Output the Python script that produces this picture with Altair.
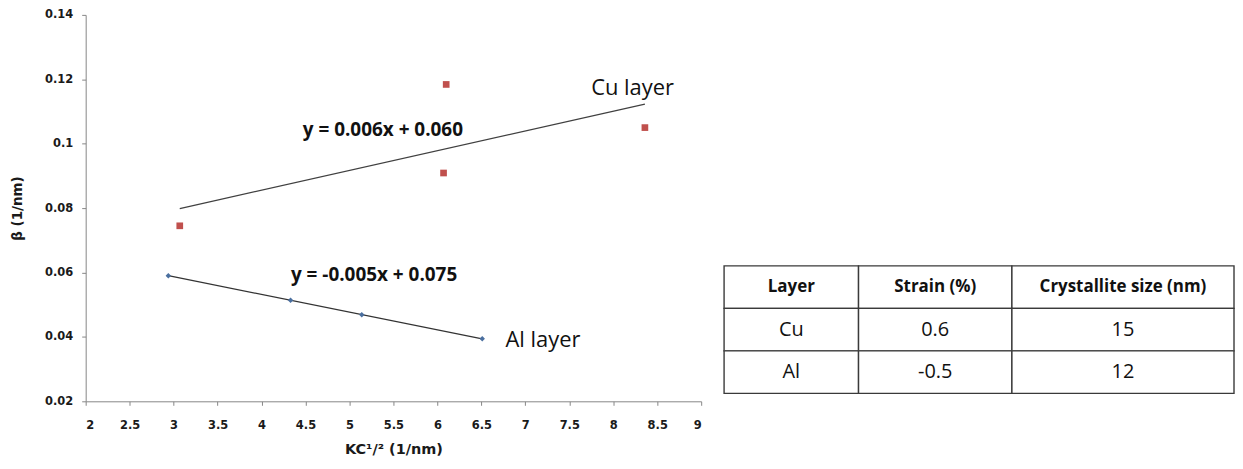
import altair as alt
import pandas as pd

# ---- data ----
cu_x = [3.07, 6.10, 6.07, 8.36]
cu_y = [0.0745, 0.1184, 0.0909, 0.105]
al_x = [2.94, 4.33, 5.14, 6.51]
al_y = [0.059, 0.0514, 0.0469, 0.0394]

x_ticks = [2, 2.5, 3, 3.5, 4, 4.5, 5, 5.5, 6, 6.5, 7, 7.5, 8, 8.5, 9]
y_ticks = [0.02, 0.04, 0.06, 0.08, 0.10, 0.12, 0.14]

ann_text = ["y = 0.006x + 0.060", "y = -0.005x + 0.075", "Cu layer", "Al layer"]
ann_x = [5.38, 5.28, 8.22, 7.20]
ann_y = [0.1041, 0.0591, 0.1172, 0.0389]
ann_bold = [True, True, False, False]

table_header = ["Layer", "Strain (%)", "Crystallite size (nm)"]
table_layer = ["Cu", "Al"]
table_strain = ["0.6", "-0.5"]
table_size = ["15", "12"]

# ---- plot ----
cu = pd.DataFrame({"x": cu_x, "y": cu_y})
al = pd.DataFrame({"x": al_x, "y": al_y})
ann = pd.DataFrame({"t": ann_text, "x": ann_x, "y": ann_y, "b": ann_bold})

xs = alt.Scale(domain=[2, 9], nice=False, zero=False)
ys = alt.Scale(domain=[0.02, 0.14], nice=False, zero=False)

axis_common = dict(
    grid=False, domainColor="#868686", tickColor="#868686", tickSize=4,
    labelFont="DejaVu Sans", labelFontWeight="bold", labelFontSize=11.5,
    labelColor="#1a1a1a", titleFont="DejaVu Sans", titleFontWeight="bold",
    titleColor="#1a1a1a", format="~g",
)
x_enc = alt.X("x:Q", scale=xs, axis=alt.Axis(values=x_ticks, title="KC¹/² (1/nm)",
              labelPadding=14, titlePadding=12, titleFontSize=14.5, **axis_common))
y_enc = alt.Y("y:Q", scale=ys, axis=alt.Axis(values=y_ticks, title="β (1/nm)",
              labelPadding=9, titlePadding=20, titleFontSize=13.5, **axis_common))

cu_line = alt.Chart(cu).transform_regression("x", "y").mark_line(
    color="#404040", strokeWidth=1.2).encode(x=x_enc, y=y_enc)
al_line = alt.Chart(al).transform_regression("x", "y").mark_line(
    color="#333333", strokeWidth=1.2).encode(x=x_enc, y=y_enc)
cu_pts = alt.Chart(cu).mark_square(size=45, color="#c0504d", opacity=1).encode(x=x_enc, y=y_enc)
al_pts = alt.Chart(al).mark_point(shape="diamond", filled=True, size=30,
                                  color="#4a6f9f", opacity=1).encode(x=x_enc, y=y_enc)

eq_txt = alt.Chart(ann).transform_filter("datum.b").mark_text(
    font="Open Sans", fontWeight="bold", fontSize=19, color="#111111",
    align="center", baseline="middle").encode(x=x_enc, y=y_enc, text="t:N")
lbl_txt = alt.Chart(ann).transform_filter("!datum.b").mark_text(
    font="Open Sans", fontSize=22, color="#111111",
    align="center", baseline="middle").encode(x=x_enc, y=y_enc, text="t:N")

plot = alt.layer(cu_line, al_line, cu_pts, al_pts, eq_txt, lbl_txt).properties(
    width=618, height=388)

# ---- table ----
col_edges = [0, 135, 289, 512]
rows = [table_header] + [[l, s, c] for l, s, c in zip(table_layer, table_strain, table_size)]
cells = []
for r, row in enumerate(rows):
    for c, txt in enumerate(row):
        cells.append({"x0": col_edges[c], "x1": col_edges[c + 1],
                      "xc": (col_edges[c] + col_edges[c + 1]) / 2,
                      "y0": r, "y1": r + 1, "yc": r + 0.5, "t": txt, "head": r == 0})
cells = pd.DataFrame(cells)

tx = alt.Scale(domain=[0, 512], nice=False, zero=False)
ty = alt.Scale(domain=[0, 3], range=[252, 380], nice=False, zero=False)

rects = alt.Chart(cells).mark_rect(fill="white", stroke="#3a3a3a", strokeWidth=1.4).encode(
    x=alt.X("x0:Q", scale=tx, axis=None), x2="x1:Q",
    y=alt.Y("y0:Q", scale=ty, axis=None), y2="y1:Q")
head_txt = alt.Chart(cells).transform_filter("datum.head").mark_text(
    font="Open Sans", fontWeight="bold", fontSize=17, color="#111111",
    align="center", baseline="middle").encode(
    x=alt.X("xc:Q", scale=tx, axis=None), y=alt.Y("yc:Q", scale=ty, axis=None), text="t:N")
body_txt = alt.Chart(cells).transform_filter("!datum.head").mark_text(
    font="Open Sans", fontSize=20, color="#111111",
    align="center", baseline="middle").encode(
    x=alt.X("xc:Q", scale=tx, axis=None), y=alt.Y("yc:Q", scale=ty, axis=None), text="t:N")

table = alt.layer(rects, head_txt, body_txt).properties(width=512, height=388)

chart = alt.hconcat(plot, table, spacing=21).properties(
    padding={"left": 2, "top": 0, "right": 0, "bottom": 0},
    background="white",
).configure_view(strokeWidth=0, stroke="transparent")

chart.save("out.html", embed_options={"renderer": "svg", "actions": False})
